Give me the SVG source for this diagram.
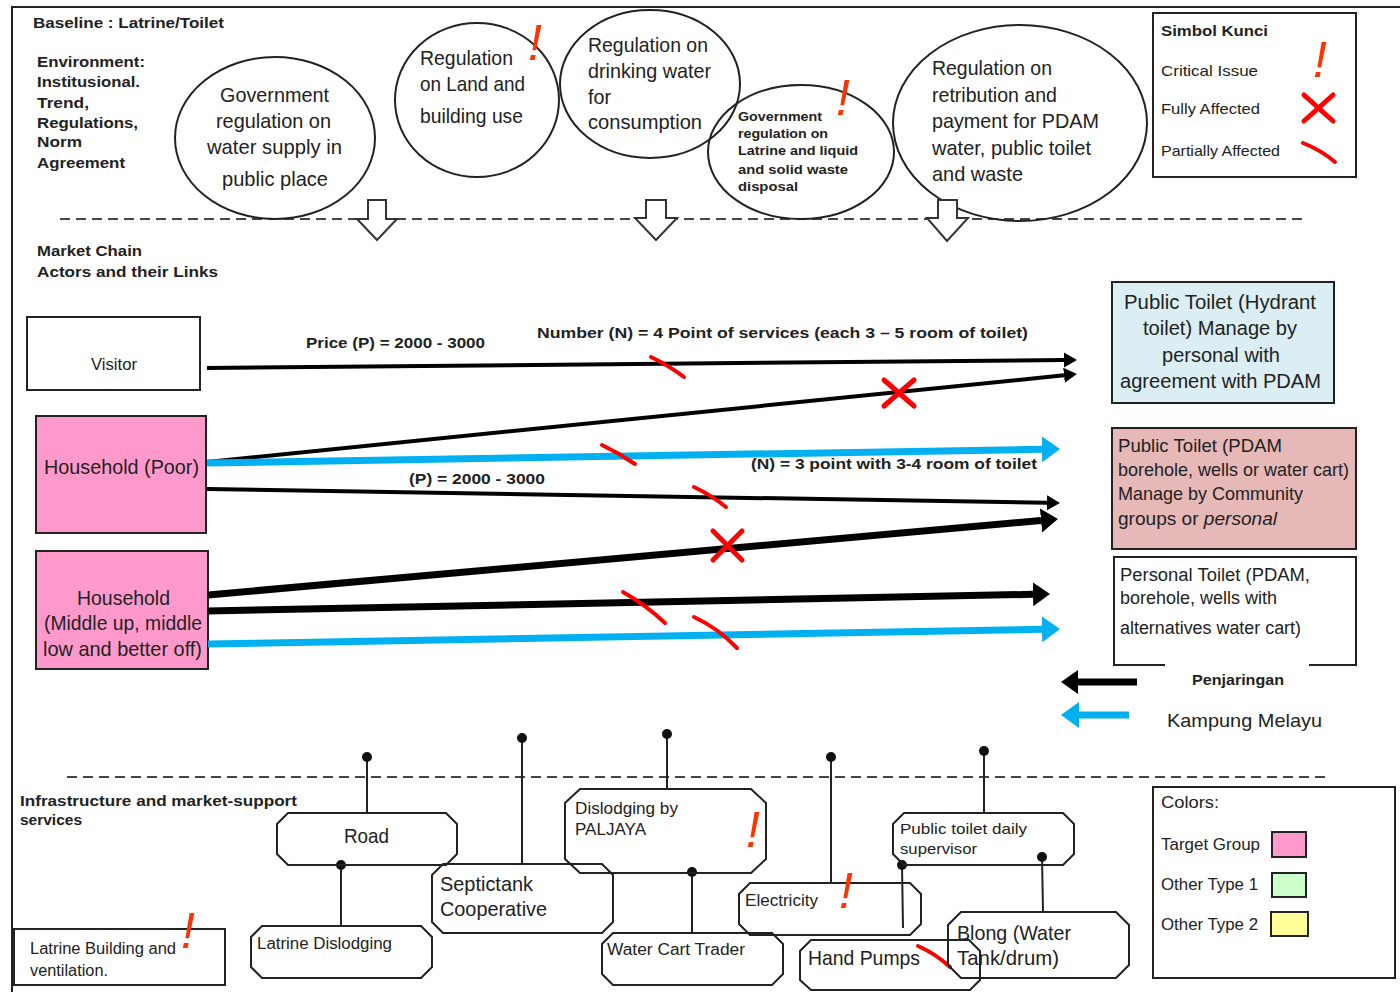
<svg xmlns="http://www.w3.org/2000/svg" width="1400" height="992" viewBox="0 0 1400 992">
<style>
.t{font-family:"Liberation Sans Narrow","Arial Narrow","Liberation Sans",Arial,sans-serif;fill:#222}
.b{font-family:"Liberation Sans",Arial,sans-serif;font-weight:bold;fill:#222}
.ex{font-family:"Liberation Sans",Arial,sans-serif;font-style:italic;fill:#FF3300;font-size:50px;text-anchor:middle}
.ell{fill:none;stroke:#222;stroke-width:2}
.box{stroke:#222;stroke-width:2}
.oct{fill:none;stroke:#222;stroke-width:2}
.dash{stroke:#444;stroke-width:2;stroke-dasharray:10 6;fill:none}
.down{fill:#fff;stroke:#333;stroke-width:2}
.pin{stroke:#222;stroke-width:2}
.dot{fill:#111}
.k4{stroke:#000;stroke-width:4;fill:none}
.k7{stroke:#000;stroke-width:7;fill:none}
.bl{stroke:#00B0F0;stroke-width:7;fill:none}
.x{stroke:#FF0000;stroke-width:5;stroke-linecap:round}
.sl{stroke:#FF0000;stroke-width:4;stroke-linecap:round;fill:none}
</style>
<defs>
<marker id="ah" markerUnits="userSpaceOnUse" markerWidth="14" markerHeight="16" refX="0" refY="7.5" orient="auto"><path d="M0,0 L13,7.5 L0,15 Z" fill="#000"/></marker>
<marker id="ahk" markerUnits="userSpaceOnUse" markerWidth="18" markerHeight="26" refX="0" refY="12" orient="auto"><path d="M0,0 L17,12 L0,24 Z" fill="#000"/></marker>
<marker id="ahb" markerUnits="userSpaceOnUse" markerWidth="19" markerHeight="27" refX="0" refY="13" orient="auto"><path d="M0,0 L18,13 L0,26 Z" fill="#00B0F0"/></marker>
</defs>
<rect width="1400" height="992" fill="#fff"/>
<path d="M12,992 V7 H1400" fill="none" stroke="#222" stroke-width="2"/>

<g id="headers">
<text class="b" x="33" y="28" font-size="15" textLength="191" lengthAdjust="spacingAndGlyphs">Baseline : Latrine/Toilet</text>
<text class="b" x="37" y="67" font-size="15" textLength="108" lengthAdjust="spacingAndGlyphs">Environment:</text>
<text class="b" x="37" y="87" font-size="15" textLength="103" lengthAdjust="spacingAndGlyphs">Institusional.</text>
<text class="b" x="37" y="108" font-size="15" textLength="52" lengthAdjust="spacingAndGlyphs">Trend,</text>
<text class="b" x="37" y="128" font-size="15" textLength="101" lengthAdjust="spacingAndGlyphs">Regulations,</text>
<text class="b" x="37" y="147" font-size="15" textLength="45" lengthAdjust="spacingAndGlyphs">Norm</text>
<text class="b" x="37" y="168" font-size="15" textLength="88" lengthAdjust="spacingAndGlyphs">Agreement</text>
<text class="b" x="37" y="256" font-size="15" textLength="105" lengthAdjust="spacingAndGlyphs">Market Chain</text>
<text class="b" x="37" y="277" font-size="15" textLength="181" lengthAdjust="spacingAndGlyphs">Actors and their Links</text>
<text class="b" x="20" y="806" font-size="15" textLength="277" lengthAdjust="spacingAndGlyphs">Infrastructure and market-support</text>
<text class="b" x="20" y="825" font-size="15" textLength="62" lengthAdjust="spacingAndGlyphs">services</text>
</g>

<g id="dividers">
<line class="dash" x1="60" y1="219" x2="1305" y2="219"/>
<line class="dash" x1="67" y1="777" x2="1325" y2="777"/>
</g>

<g id="reg-water-supply">
<ellipse class="ell" cx="275" cy="138" rx="100" ry="81"/>
<text class="t" font-size="21" x="220" y="102" textLength="109" lengthAdjust="spacingAndGlyphs">Government</text>
<text class="t" font-size="21" x="216" y="128" textLength="115" lengthAdjust="spacingAndGlyphs">regulation on</text>
<text class="t" font-size="21" x="207" y="154" textLength="135" lengthAdjust="spacingAndGlyphs">water supply in</text>
<text class="t" font-size="21" x="222" y="186" textLength="106" lengthAdjust="spacingAndGlyphs">public place</text>
</g>
<g id="reg-land">
<ellipse class="ell" cx="477" cy="100" rx="82" ry="77"/>
<text class="t" font-size="21" x="420" y="65" textLength="93" lengthAdjust="spacingAndGlyphs">Regulation</text>
<text class="t" font-size="21" x="420" y="91" textLength="105" lengthAdjust="spacingAndGlyphs">on Land and</text>
<text class="t" font-size="21" x="420" y="123" textLength="103" lengthAdjust="spacingAndGlyphs">building use</text>
<text class="ex" x="535" y="60">!</text>
</g>
<g id="reg-drinking">
<ellipse class="ell" cx="650" cy="84" rx="90" ry="74"/>
<text class="t" font-size="21" x="588" y="52" textLength="120" lengthAdjust="spacingAndGlyphs">Regulation on</text>
<text class="t" font-size="21" x="588" y="78" textLength="123" lengthAdjust="spacingAndGlyphs">drinking water</text>
<text class="t" font-size="21" x="588" y="104" textLength="23" lengthAdjust="spacingAndGlyphs">for</text>
<text class="t" font-size="21" x="588" y="129" textLength="114" lengthAdjust="spacingAndGlyphs">consumption</text>
</g>
<g id="reg-latrine">
<ellipse class="ell" cx="801" cy="152" rx="93" ry="67"/>
<text class="b" font-size="12" x="738" y="121" textLength="84" lengthAdjust="spacingAndGlyphs">Government</text>
<text class="b" font-size="12" x="738" y="138" textLength="90" lengthAdjust="spacingAndGlyphs">regulation on</text>
<text class="b" font-size="12" x="738" y="155" textLength="120" lengthAdjust="spacingAndGlyphs">Latrine and liquid</text>
<text class="b" font-size="12" x="738" y="174" textLength="110" lengthAdjust="spacingAndGlyphs">and solid waste</text>
<text class="b" font-size="12" x="738" y="191" textLength="60" lengthAdjust="spacingAndGlyphs">disposal</text>
<text class="ex" x="843" y="115">!</text>
</g>
<g id="reg-retribution">
<ellipse class="ell" cx="1020" cy="123" rx="127" ry="98"/>
<text class="t" font-size="21" x="932" y="75" textLength="120" lengthAdjust="spacingAndGlyphs">Regulation on</text>
<text class="t" font-size="21" x="932" y="102" textLength="125" lengthAdjust="spacingAndGlyphs">retribution and</text>
<text class="t" font-size="21" x="932" y="128" textLength="167" lengthAdjust="spacingAndGlyphs">payment for PDAM</text>
<text class="t" font-size="21" x="932" y="155" textLength="159" lengthAdjust="spacingAndGlyphs">water, public toilet</text>
<text class="t" font-size="21" x="932" y="181" textLength="91" lengthAdjust="spacingAndGlyphs">and waste</text>
</g>

<g id="down-arrows">
<polygon class="down" points="368,200 386,200 386,219 397,219 377,240 357,219 368,219"/>
<polygon class="down" points="646,200 666,200 666,218 677,218 656,240 635,218 646,218"/>
<polygon class="down" points="938,200 957,200 957,218 968,218 947,241 927,218 938,218"/>
</g>

<g id="legend-symbols">
<rect class="box" x="1153" y="13" width="203" height="164" fill="none"/>
<text class="b" font-size="14" x="1161" y="36" textLength="107" lengthAdjust="spacingAndGlyphs">Simbol Kunci</text>
<text class="t" font-size="15" x="1161" y="76" textLength="97" lengthAdjust="spacingAndGlyphs">Critical Issue</text>
<text class="t" font-size="15" x="1161" y="114" textLength="99" lengthAdjust="spacingAndGlyphs">Fully Affected</text>
<text class="t" font-size="15" x="1161" y="156" textLength="119" lengthAdjust="spacingAndGlyphs">Partially Affected</text>
<text class="ex" x="1320" y="77">!</text>
<line class="x" x1="1304" y1="95" x2="1333" y2="121"/>
<line class="x" x1="1333" y1="95" x2="1304" y2="121"/>
<path class="sl" d="M1303,143 Q1321,150 1335,162"/>
</g>

<g id="visitor">
<rect class="box" x="27" y="317" width="173" height="73" fill="#fff"/>
<text class="t" font-size="16" x="91" y="370" textLength="46" lengthAdjust="spacingAndGlyphs">Visitor</text>
</g>
<g id="household-poor">
<rect class="box" x="36" y="416" width="170" height="117" fill="#FF99CC"/>
<text class="t" font-size="21" x="44" y="474" textLength="155" lengthAdjust="spacingAndGlyphs">Household (Poor)</text>
</g>
<g id="household-middle">
<rect class="box" x="36" y="551" width="172" height="118" fill="#FF99CC"/>
<text class="t" font-size="21" x="77" y="605" textLength="93" lengthAdjust="spacingAndGlyphs">Household</text>
<text class="t" font-size="21" x="44" y="630" textLength="158" lengthAdjust="spacingAndGlyphs">(Middle up, middle</text>
<text class="t" font-size="21" x="43" y="656" textLength="159" lengthAdjust="spacingAndGlyphs">low and better off)</text>
</g>
<g id="public-toilet-hydrant">
<rect class="box" x="1112" y="282" width="222" height="121" fill="#DBEEF3"/>
<text class="t" font-size="20" x="1124" y="309" textLength="192" lengthAdjust="spacingAndGlyphs">Public Toilet (Hydrant</text>
<text class="t" font-size="20" x="1143" y="335" textLength="154" lengthAdjust="spacingAndGlyphs">toilet) Manage by</text>
<text class="t" font-size="20" x="1162" y="362" textLength="118" lengthAdjust="spacingAndGlyphs">personal with</text>
<text class="t" font-size="20" x="1120" y="388" textLength="201" lengthAdjust="spacingAndGlyphs">agreement with PDAM</text>
</g>
<g id="public-toilet-pdam">
<rect class="box" x="1112" y="428" width="244" height="121" fill="#E6B8B7"/>
<text class="t" font-size="19" x="1118" y="452" textLength="164" lengthAdjust="spacingAndGlyphs">Public Toilet (PDAM</text>
<text class="t" font-size="19" x="1118" y="476" textLength="231" lengthAdjust="spacingAndGlyphs">borehole, wells or water cart)</text>
<text class="t" font-size="19" x="1118" y="500" textLength="185" lengthAdjust="spacingAndGlyphs">Manage by Community</text>
<text class="t" font-size="19" x="1118" y="525" textLength="159" lengthAdjust="spacingAndGlyphs">groups or <tspan font-style="italic">personal</tspan></text>
</g>
<g id="personal-toilet">
<path d="M1165,665 H1114 V557 H1356 V665 H1309" fill="none" stroke="#222" stroke-width="2"/>
<text class="t" font-size="18" x="1120" y="581" textLength="190" lengthAdjust="spacingAndGlyphs">Personal Toilet (PDAM,</text>
<text class="t" font-size="18" x="1120" y="604" textLength="157" lengthAdjust="spacingAndGlyphs">borehole, wells with</text>
<text class="t" font-size="18" x="1120" y="634" textLength="181" lengthAdjust="spacingAndGlyphs">alternatives water cart)</text>
</g>

<g id="connectors">
<line class="k4" x1="207" y1="368" x2="1064" y2="360" marker-end="url(#ah)"/>
<line class="k4" x1="207" y1="462" x2="1064" y2="375.3" marker-end="url(#ah)"/>
<line class="bl" x1="207" y1="463" x2="1042" y2="449.3" marker-end="url(#ahb)"/>
<line class="k4" x1="207" y1="489" x2="1047" y2="502.8" marker-end="url(#ah)"/>
<line class="k7" x1="208" y1="595" x2="1041" y2="520.5" marker-end="url(#ahk)"/>
<line class="k7" x1="208" y1="611" x2="1033" y2="594.3" marker-end="url(#ahk)"/>
<line class="bl" x1="208" y1="644" x2="1042" y2="629.3" marker-end="url(#ahb)"/>
<line class="k7" x1="1137" y1="682" x2="1078" y2="682" marker-end="url(#ahk)"/>
<line class="bl" x1="1129" y1="715" x2="1079" y2="715" marker-end="url(#ahb)"/>
<line class="pin" x1="367" y1="813" x2="367" y2="757"/><circle class="dot" cx="367" cy="757" r="5"/>
<line class="pin" x1="341" y1="865" x2="341" y2="926"/><circle class="dot" cx="341" cy="865" r="5"/>
<line class="pin" x1="522" y1="864" x2="522" y2="738"/><circle class="dot" cx="522" cy="738" r="5"/>
<line class="pin" x1="667" y1="789" x2="667" y2="734"/><circle class="dot" cx="667" cy="734" r="5"/>
<line class="pin" x1="692" y1="872" x2="692" y2="933"/><circle class="dot" cx="692" cy="872" r="5"/>
<line class="pin" x1="831" y1="883" x2="831" y2="757"/><circle class="dot" cx="831" cy="757" r="5"/>
<line class="pin" x1="984" y1="813" x2="984" y2="751"/><circle class="dot" cx="984" cy="751" r="5"/>
<line class="pin" x1="902" y1="865" x2="903" y2="928"/><circle class="dot" cx="902" cy="865" r="5"/>
<line class="pin" x1="1042" y1="857" x2="1043" y2="912"/><circle class="dot" cx="1042" cy="857" r="5"/>
</g>

<g id="link-labels">
<text class="b" font-size="14" x="306" y="348" textLength="179" lengthAdjust="spacingAndGlyphs">Price (P) = 2000  - 3000</text>
<text class="b" font-size="14" x="537" y="338" textLength="491" lengthAdjust="spacingAndGlyphs">Number (N) = 4 Point of services  (each 3 – 5  room of toilet)</text>
<text class="b" font-size="14" x="409" y="484" textLength="136" lengthAdjust="spacingAndGlyphs">(P) = 2000  - 3000</text>
<text class="b" font-size="14" x="751" y="469" textLength="286" lengthAdjust="spacingAndGlyphs">(N) = 3 point with 3-4 room of toilet</text>
</g>

<g id="impact-marks">
<path class="sl" d="M651,357 Q668,365 684,377"/>
<line class="x" x1="884" y1="380" x2="914" y2="406"/><line class="x" x1="914" y1="380" x2="884" y2="406"/>
<path class="sl" d="M602,445 Q619,453 635,464"/>
<path class="sl" d="M694,487 Q711,495 726,507"/>
<line class="x" x1="713" y1="531" x2="742" y2="560"/><line class="x" x1="742" y1="531" x2="713" y2="560"/>
<path class="sl" d="M623,592 Q646,605 665,623"/>
<path class="sl" d="M694,617 Q718,628 737,648"/>
<path class="sl" d="M918,946 Q936,954 950,967"/>
</g>

<g id="legend-network">
<text class="b" font-size="15" x="1192" y="685" textLength="92" lengthAdjust="spacingAndGlyphs">Penjaringan</text>
<text class="t" font-size="19" x="1167" y="727" textLength="155" lengthAdjust="spacingAndGlyphs">Kampung Melayu</text>
</g>

<g id="road">
<polygon class="oct" points="288,813 446,813 457,824 457,854 446,865 288,865 277,854 277,824"/>
<text class="t" font-size="21" x="344" y="843" textLength="45" lengthAdjust="spacingAndGlyphs">Road</text>
</g>
<g id="latrine-dislodging">
<polygon class="oct" points="262,926 421,926 432,937 432,967 421,978 262,978 251,967 251,937"/>
<text class="t" font-size="16" x="257" y="949" textLength="135" lengthAdjust="spacingAndGlyphs">Latrine Dislodging</text>
</g>
<g id="latrine-building">
<rect class="box" x="14" y="929" width="211" height="56" fill="none"/>
<text class="t" font-size="16" x="30" y="954" textLength="146" lengthAdjust="spacingAndGlyphs">Latrine Building and</text>
<text class="t" font-size="16" x="30" y="976" textLength="78" lengthAdjust="spacingAndGlyphs">ventilation.</text>
<text class="ex" x="188" y="948">!</text>
</g>
<g id="septictank">
<polygon class="oct" points="443,864 602,864 613,875 613,922 602,933 443,933 432,922 432,875"/>
<text class="t" font-size="21" x="440" y="891" textLength="93" lengthAdjust="spacingAndGlyphs">Septictank</text>
<text class="t" font-size="21" x="440" y="916" textLength="107" lengthAdjust="spacingAndGlyphs">Cooperative</text>
</g>
<g id="dislodging-paljaya">
<polygon class="oct" points="580,789 751,789 766,803 766,859 751,873 580,873 565,859 565,803"/>
<text class="t" font-size="16" x="575" y="814" textLength="103" lengthAdjust="spacingAndGlyphs">Dislodging by</text>
<text class="t" font-size="16" x="575" y="835" textLength="71" lengthAdjust="spacingAndGlyphs">PALJAYA</text>
<text class="ex" x="753" y="847">!</text>
</g>
<g id="water-cart">
<polygon class="oct" points="613,933 772,933 783,944 783,974 772,985 613,985 602,974 602,944"/>
<text class="t" font-size="16" x="607" y="955" textLength="138" lengthAdjust="spacingAndGlyphs">Water Cart Trader</text>
</g>
<g id="electricity">
<polygon class="oct" points="750,883 910,883 921,894 921,924 910,935 750,935 739,924 739,894"/>
<text class="t" font-size="16" x="745" y="906" textLength="73" lengthAdjust="spacingAndGlyphs">Electricity</text>
<text class="ex" x="846" y="908">!</text>
</g>
<g id="hand-pumps">
<polygon class="oct" points="811,940 969,940 980,951 980,980 970,990 811,990 800,980 800,951"/>
<text class="t" font-size="21" x="808" y="965" textLength="112" lengthAdjust="spacingAndGlyphs">Hand Pumps</text>
</g>
<g id="pt-supervisor">
<polygon class="oct" points="904,813 1063,813 1074,824 1074,854 1063,865 904,865 893,854 893,824"/>
<text class="t" font-size="15" x="900" y="834" textLength="127" lengthAdjust="spacingAndGlyphs">Public toilet  daily</text>
<text class="t" font-size="15" x="900" y="854" textLength="77" lengthAdjust="spacingAndGlyphs">supervisor</text>
</g>
<g id="blong">
<polygon class="oct" points="961,912 1116,912 1129,925 1129,965 1116,978 961,978 948,965 948,925"/>
<text class="t" font-size="21" x="957" y="940" textLength="114" lengthAdjust="spacingAndGlyphs">Blong (Water</text>
<text class="t" font-size="21" x="957" y="965" textLength="102" lengthAdjust="spacingAndGlyphs">Tank/drum)</text>
</g>

<g id="legend-colors">
<rect class="box" x="1153" y="787" width="242" height="191" fill="none"/>
<text class="t" font-size="16" x="1161" y="808" textLength="58" lengthAdjust="spacingAndGlyphs">Colors:</text>
<text class="t" font-size="16" x="1161" y="850" textLength="99" lengthAdjust="spacingAndGlyphs">Target Group</text>
<rect class="box" x="1272" y="832" width="34" height="25" fill="#FF99CC"/>
<text class="t" font-size="16" x="1161" y="890" textLength="97" lengthAdjust="spacingAndGlyphs">Other Type 1</text>
<rect class="box" x="1272" y="873" width="34" height="24" fill="#CCFFCC"/>
<text class="t" font-size="16" x="1161" y="930" textLength="97" lengthAdjust="spacingAndGlyphs">Other Type 2</text>
<rect class="box" x="1271" y="912" width="37" height="24" fill="#FFFF99"/>
</g>
</svg>
